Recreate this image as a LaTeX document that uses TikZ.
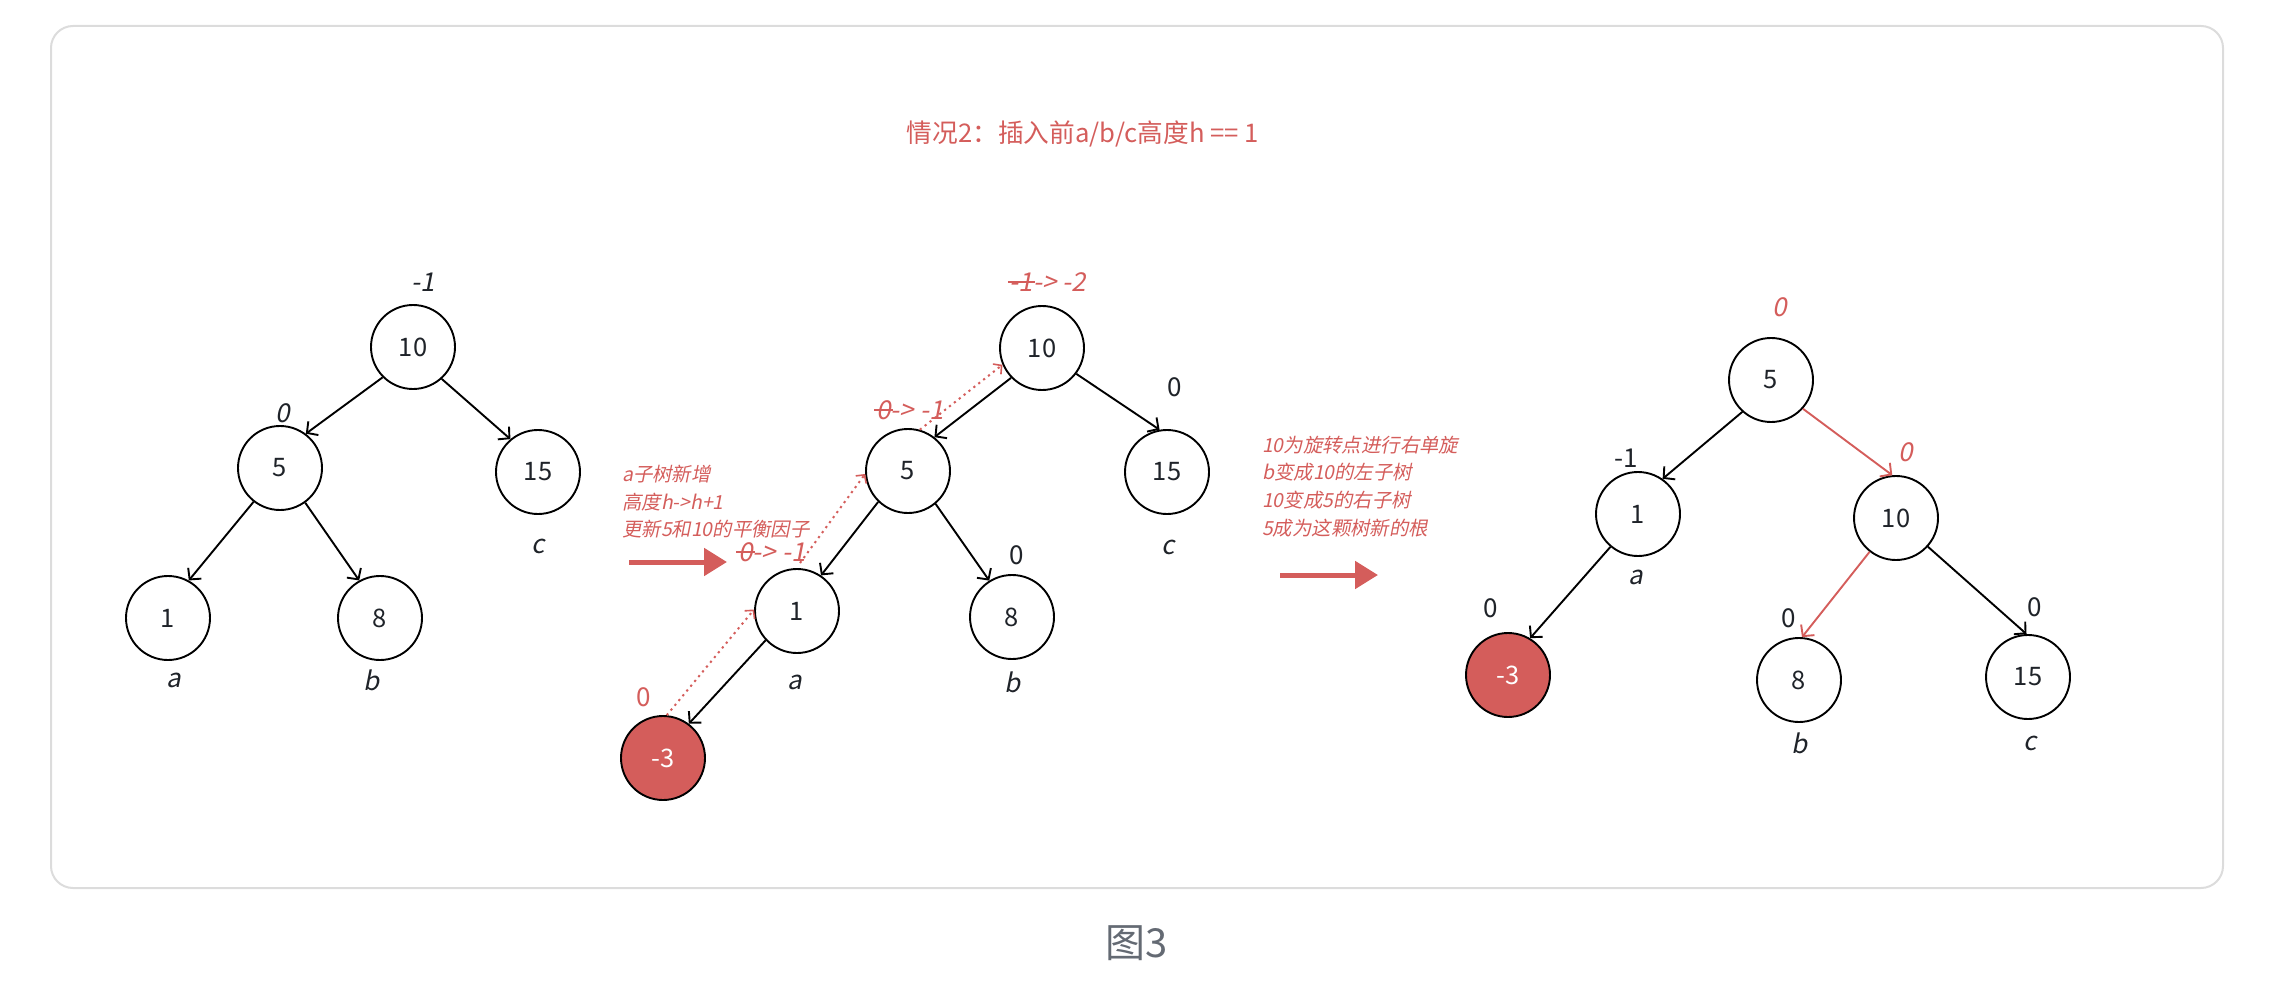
\documentclass[tikz,border=0pt]{standalone}
\usepackage{fontspec}
\setmainfont{Noto Sans CJK SC}
\newfontfamily\slf{Noto Sans CJK SC}[FakeSlant=0.2]
\newsavebox\stkbox
\newcommand\strk[1]{\sbox\stkbox{#1}\makebox[0pt][l]{\usebox\stkbox}\kern-2pt\rule[0.33em]{\dimexpr\wd\stkbox+4pt\relax}{1.6pt}\kern-2pt}
\usetikzlibrary{arrows.meta}
\definecolor{rd}{HTML}{D45D5B}
\definecolor{ink}{HTML}{1F2329}
\definecolor{framec}{HTML}{DCDCDC}
\definecolor{capc}{HTML}{646A73}
\tikzset{
  tn/.style={circle, draw=black, line width=1.9pt, minimum size=84pt, inner sep=0pt, text=ink, font=\fontsize{25.5}{25.5}\selectfont},
  newn/.style={tn, fill=rd, text=white},
  lnk/.style={line width=1.9pt, -{Straight Barb[length=8pt,width=17pt,line width=1.9pt]}},
  rlnk/.style={lnk, draw=rd},
  dotarr/.style={draw=rd, line width=2pt, dash pattern=on 2.2pt off 4pt, -{Straight Barb[length=6pt,width=13pt,line width=1.6pt]}},
  bigarr/.style={draw=rd, line width=5pt, -{Triangle[length=23pt,width=27pt]}},
  lbi/.style={inner sep=0pt, text=ink, font=\slf\fontsize{26}{26}\selectfont},
  lbu/.style={inner sep=0pt, text=ink, font=\fontsize{26}{26}\selectfont},
  rlbi/.style={lbi, text=rd},
  rlbu/.style={lbu, text=rd},
  note/.style={inner sep=0pt, anchor=west, text=rd, font=\slf\fontsize{19.4}{19.4}\selectfont},
}
\begin{document}
\begin{tikzpicture}[x=1pt,y=-1pt]
\useasboundingbox (0,0) rectangle (2275,981);
\draw[framec, line width=2pt, rounded corners=22pt] (51,26) rectangle (2223,888);
\node[inner sep=0pt, text=rd, font=\fontsize{25.7}{25.7}\selectfont] (title) at (1083,134) {情况2：插入前a/b/c高度h == 1};
\node[inner sep=0pt, text=capc, font=\fontsize{40}{40}\selectfont] (caption) at (1137,943) {图3};

% ---------- tree 1 ----------
\node[tn] (a10) at (413,347) {10};
\node[tn] (a5) at (280,468) {5};
\node[tn] (a15) at (538,472) {15};
\node[tn] (a1) at (168,618) {1};
\node[tn] (a8) at (380,618) {8};
\draw[lnk] (a10.225) -- (a5.53);
\draw[lnk] (a10.312) -- (a15.130);
\draw[lnk] (a5.232) -- (a1.61);
\draw[lnk] (a5.306) -- (a8.119);
\node[lbi] (la10) at (423,282) {-1};
\node[lbi] (la5) at (283,413) {0};
\node[lbi] (laa) at (174,680) {a};
\node[lbi] (lab) at (372,680) {b};
\node[lbi] (lac) at (538,546) {c};

% ---------- arrow 1 and note ----------
\node[note] (n1a) at (622,474) {a子树新增};
\node[note] (n1b) at (622,502) {高度h->h+1};
\node[note] (n1c) at (622,529) {更新5和10的平衡因子};
\coordinate (ba1s) at (629,562);
\coordinate (ba1e) at (727,562);
\draw[bigarr] (ba1s) -- (ba1e);

% ---------- tree 2 ----------
\node[tn] (b10) at (1042,348) {10};
\node[tn] (b5) at (908,471) {5};
\node[tn] (b15) at (1167,472) {15};
\node[tn] (b1) at (797,611) {1};
\node[tn] (b8) at (1012,617) {8};
\node[newn] (bm3) at (663,758) {-3};
\draw[lnk] (b10.224) -- (b5.52);
\draw[lnk] (b10.323) -- (b15.100);
\draw[lnk] (b5.226) -- (b1.56);
\draw[lnk] (b5.310) -- (b8.122);
\draw[lnk] (b1.223) -- (bm3.53);
\node[rlbi] (lb10) at (1048,282) {\strk{-1} -> -2};
\node[rlbi] (lb5) at (910,410) {\strk{0} -> -1};
\node[rlbi] (lb1) at (772,552) {\strk{0} -> -1};
\node[lbu] (lb15) at (1175,387) {0};
\node[lbu] (lb8) at (1017,555) {0};
\node[rlbu] (lbm3) at (644,697) {0};
\node[lbi] (lba) at (795,682) {a};
\node[lbi] (lbb) at (1013,682) {b};
\node[lbi] (lbc) at (1168,547) {c};
\coordinate (d2s) at (800,563);
\draw[dotarr] (bm3.85) -- (b1.178);
\draw[dotarr] (d2s) -- (b5.184);
\draw[dotarr] (b5.74) -- (b10.203);

% ---------- arrow 2 and note ----------
\node[note] (n2a) at (1262,445) {10为旋转点进行右单旋};
\node[note] (n2b) at (1262,472) {b变成10的左子树};
\node[note] (n2c) at (1262,500) {10变成5的右子树};
\node[note] (n2d) at (1262,528) {5成为这颗树新的根};
\coordinate (ba2s) at (1280,575);
\coordinate (ba2e) at (1378,575);
\draw[bigarr] (ba2s) -- (ba2e);

% ---------- tree 3 ----------
\node[tn] (c5) at (1771,380) {5};
\node[tn] (c1) at (1638,514) {1};
\node[tn] (c10) at (1896,518) {10};
\node[newn] (cm3) at (1508,675) {-3};
\node[tn] (c8) at (1799,680) {8};
\node[tn] (c15) at (2028,677) {15};
\draw[lnk] (c5.228) -- (c1.55);
\draw[rlnk] (c5.318) -- (c10.95);
\draw[lnk] (c1.230) -- (cm3.59);
\draw[rlnk] (c10.232) -- (c8.86);
\draw[lnk] (c10.318) -- (c15.92);
\node[rlbi] (lc5) at (1780,307) {0};
\node[lbu] (lc1) at (1626,458) {-1};
\node[rlbi] (lc10) at (1906,452) {0};
\node[lbu] (lcm3) at (1491,608) {0};
\node[lbu] (lc8) at (1789,618) {0};
\node[lbu] (lc15) at (2035,607) {0};
\node[lbi] (lca) at (1636,577) {a};
\node[lbi] (lcb) at (1800,743) {b};
\node[lbi] (lcc) at (2030,743) {c};
\end{tikzpicture}
\end{document}
